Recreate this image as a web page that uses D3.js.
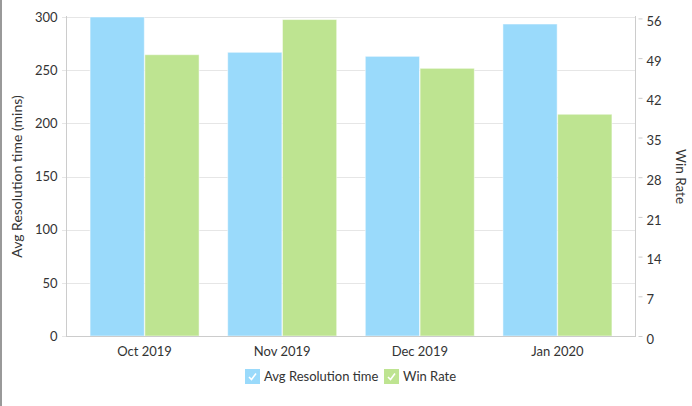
<!DOCTYPE html>
<html><head><meta charset="utf-8">
<script src="https://cdn.jsdelivr.net/npm/d3@7"></script>
<style>
body{margin:0;background:#fff;}
svg{display:block;font-family:Lato,"Open Sans",sans-serif;}
</style></head>
<body><svg id="c" width="692" height="406"></svg>
<script>
const categories = ["Oct 2019","Nov 2019","Dec 2019","Jan 2020"];
const avgResolution = [300, 266.8, 263, 293.4];
const winRate = [49.6, 55.8, 47.2, 39.1];
const leftTicks = [0,50,100,150,200,250,300];
const rightTicks = [0,7,14,21,28,35,42,49,56];
const seriesNames = ["Avg Resolution time","Win Rate"];
const colors = ["#9adafb","#bee491"];

const svg = d3.select("#c");
const L=66, R=636, T=17, B=336;

svg.append("line").attr("x1",1).attr("x2",1).attr("y1",0).attr("y2",406).attr("stroke","#999").attr("stroke-width",2);

const x = d3.scaleBand().domain(categories).range([L,R]).paddingInner(0.2).paddingOuter(0.171);
const xs = d3.scaleBand().domain([0,1]).range([0,x.bandwidth()]).padding(0.01);
const yL = d3.scaleLinear().domain([0,300]).range([B,T]);
const yR = d3.scaleLinear().domain([0,56.25]).range([B,T]);

// gridlines
svg.append("g").selectAll("line").data(leftTicks).join("line")
  .attr("x1",L-4).attr("x2",R).attr("y1",d=>Math.round(yL(d))+0.5).attr("y2",d=>Math.round(yL(d))+0.5)
  .attr("stroke","#e6e6e6");

// bars
const g = svg.append("g");
categories.forEach((c,i)=>{
  [avgResolution[i], winRate[i]].forEach((v,j)=>{
    const y = j===0 ? yL : yR;
    g.append("rect")
      .attr("x", x(c)+xs(j)).attr("width", xs.bandwidth())
      .attr("y", y(v)).attr("height", B - y(v))
      .attr("fill", colors[j]).attr("stroke","#fff").attr("stroke-opacity",0.5).attr("stroke-width",1);
  });
});

// left axis
const la = svg.append("g").attr("transform",`translate(${L+0.5},0)`)
  .call(d3.axisLeft(yL).tickValues(leftTicks).tickSize(0).tickPadding(9));
la.select(".domain").attr("stroke","#ccc").attr("d",`M0,${T-1}V${B}`);
la.selectAll("text").attr("font-size",13).attr("fill","#333").attr("font-family","Lato,'Open Sans',sans-serif");

// right axis
const ra = svg.append("g").attr("transform",`translate(${R-0.5},0)`)
  .call(d3.axisRight(yR).tickValues(rightTicks).tickSize(7).tickPadding(4));
ra.select(".domain").attr("stroke","#ccc").attr("d",`M0,${T-1}V${B}`);
ra.selectAll(".tick line").attr("stroke","#ccc").attr("x1",3);
ra.selectAll("text").attr("font-size",13).attr("fill","#333").attr("font-family","Lato,'Open Sans',sans-serif").attr("dy","0.55em");

// bottom axis
const ba = svg.append("g").attr("transform",`translate(0,${B+0.5})`)
  .call(d3.axisBottom(x).tickSize(0).tickPadding(10));
ba.select(".domain").attr("stroke","#ccc").attr("d",`M${L},0H${R}`);
ba.selectAll("text").attr("font-size",13).attr("fill","#333").attr("font-family","Lato,'Open Sans',sans-serif");

// axis titles
svg.append("text").attr("transform",`translate(22,${(T+B)/2}) rotate(-90)`)
  .attr("text-anchor","middle").attr("font-size",14).attr("fill","#333").text("Avg Resolution time (mins)");
svg.append("text").attr("transform",`translate(676,${(T+B)/2}) rotate(90)`)
  .attr("text-anchor","middle").attr("font-size",13.5).attr("fill","#333").text("Win Rate");

// legend
const legX = [245, 384];
seriesNames.forEach((n,i)=>{
  const lg = svg.append("g").attr("transform",`translate(${legX[i]},369)`);
  lg.append("rect").attr("width",15).attr("height",15).attr("fill",colors[i]);
  lg.append("path").attr("d","M4,8 L6.5,10.5 L11,4.5").attr("fill","none").attr("stroke","#fff").attr("stroke-width",1.6);
  lg.append("text").attr("x",19).attr("y",12).attr("font-size",13).attr("fill","#333").text(n);
});
</script></body></html>
